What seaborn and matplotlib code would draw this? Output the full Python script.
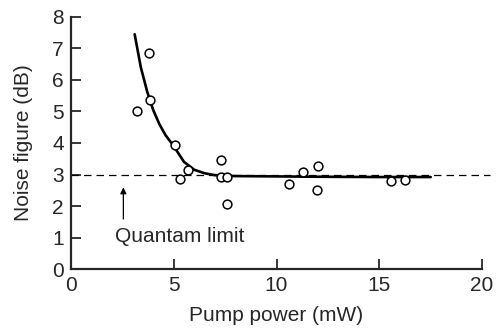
import matplotlib
matplotlib.use("Agg")
import matplotlib.pyplot as plt
import pandas as pd
import seaborn as sns

# measured points (pump power mW, noise figure dB)
pump_power = [3.2, 3.8, 3.85, 5.05, 5.3, 5.7, 7.3, 7.3, 7.6, 7.6, 10.6, 11.3, 12.0, 11.95, 15.55, 16.25]
noise_fig = [5.0, 6.85, 5.35, 3.95, 2.85, 3.15, 3.45, 2.92, 2.93, 2.05, 2.7, 3.07, 3.27, 2.52, 2.8, 2.83]

# fitted curve
curve_x = [3.1, 3.4, 3.7, 4.0, 4.3, 4.6, 5.0, 5.5, 6.0, 6.5, 7.0, 8.0, 10.0, 12.0, 15.0, 17.5]
curve_y = [7.45, 6.4, 5.65, 5.05, 4.6, 4.25, 3.9, 3.4, 3.15, 3.04, 2.98, 2.95, 2.94, 2.93, 2.92, 2.92]

quantum_limit = 3.0

pts = pd.DataFrame({"power": pump_power, "nf": noise_fig})
fit = pd.DataFrame({"power": curve_x, "nf": curve_y})

sns.set_style("ticks")
plt.rcParams["font.family"] = ["Liberation Sans", "DejaVu Sans"]

fig = plt.figure(figsize=(4.96, 3.31), dpi=100)
ax = fig.add_axes([0.143, 0.187, 0.829, 0.762])

ax.axhline(quantum_limit, xmin=0, xmax=1.02, color="black", lw=0.9,
           ls=(0, (6, 4)), clip_on=False, zorder=1)
sns.lineplot(data=fit, x="power", y="nf", ax=ax, color="black", lw=1.9,
             zorder=2, legend=False)
sns.scatterplot(data=pts, x="power", y="nf", ax=ax, marker="o", s=40,
                facecolor="white", edgecolor="black", linewidth=1.1,
                zorder=3, legend=False)

ax.annotate("", xy=(2.55, 2.68), xytext=(2.55, 1.5),
            arrowprops=dict(arrowstyle="-|>", color="black", lw=0.9,
                            mutation_scale=9))
ax.text(2.15, 1.02, "Quantam limit", fontsize=15, va="center", ha="left")

ax.set_xlim(0, 20)
ax.set_ylim(0, 8)
ax.set_xticks([0, 5, 10, 15, 20])
ax.set_yticks(range(0, 9))
ax.tick_params(direction="in", length=7, width=1.3, labelsize=15, pad=5)
ax.set_xlabel("Pump power (mW)", fontsize=15, labelpad=8)
ax.set_ylabel("Noise figure (dB)", fontsize=15, labelpad=14)
sns.despine(ax=ax)
for s in ["left", "bottom"]:
    ax.spines[s].set_linewidth(1.6)

fig.savefig("out.png", dpi=100)
